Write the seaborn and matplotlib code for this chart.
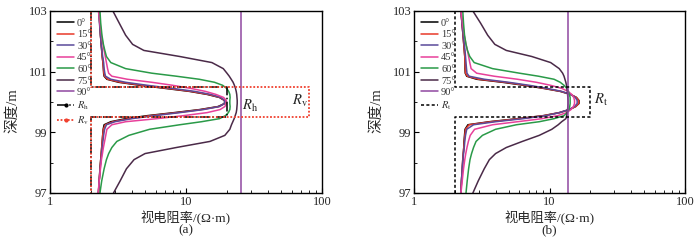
import matplotlib
matplotlib.use("Agg")
import matplotlib.pyplot as plt
from matplotlib.lines import Line2D
from matplotlib.ticker import FixedLocator, NullFormatter, FixedFormatter
import pandas as pd
import seaborn as sns

# depth grid shared by all curves (m)
depth = [103.0, 102.6, 102.2, 101.9, 101.7, 101.5, 101.3, 101.1, 100.95, 100.85,
         100.75, 100.65, 100.55, 100.45, 100.35, 100.25, 100.15, 100.05, 99.95, 99.85,
         99.75, 99.65, 99.55, 99.45, 99.35, 99.25, 99.1, 98.9, 98.7, 98.5,
         98.3, 98.1, 97.8, 97.4, 97.0]

angles = ["0°", "15°", "30°", "45°", "60°", "75°", "90°"]
colors = ["#000000", "#e8392a", "#5a4a9a", "#e8409a", "#2a9a48", "#4a2a48", "#9048a0"]

# (a) anisotropic bed: apparent resistivity per dip angle
a_0 = [2.29, 2.32, 2.35, 2.38, 2.40, 2.42, 2.45, 2.47, 2.48, 2.50,
       2.62, 3.2, 4.6, 7.0, 10.6, 14.3, 17.6, 19.2, 19.2, 17.2,
       12.6, 8.2, 5.2, 3.6, 2.8, 2.5, 2.46, 2.44, 2.42, 2.40,
       2.38, 2.36, 2.33, 2.30, 2.27]
a_15 = [2.29, 2.32, 2.35, 2.38, 2.40, 2.42, 2.45, 2.47, 2.49, 2.52,
        2.66, 3.3, 4.8, 7.3, 10.9, 14.6, 17.8, 19.3, 19.3, 17.5,
        13.0, 8.6, 5.5, 3.8, 2.9, 2.55, 2.47, 2.44, 2.42, 2.40,
        2.38, 2.36, 2.33, 2.30, 2.27]
a_30 = [2.28, 2.31, 2.35, 2.38, 2.41, 2.44, 2.48, 2.50, 2.53, 2.56,
        2.8, 3.6, 5.2, 7.9, 11.6, 15.2, 18.0, 19.3, 19.2, 17.6,
        13.4, 9.0, 5.9, 4.0, 3.0, 2.6, 2.52, 2.48, 2.45, 2.42,
        2.40, 2.37, 2.34, 2.30, 2.27]
a_45 = [2.27, 2.33, 2.39, 2.45, 2.50, 2.55, 2.60, 2.65, 2.70, 2.85,
        3.7, 5.6, 8.0, 10.8, 13.9, 16.6, 18.9, 19.8, 19.8, 19.3,
        17.8, 14.3, 9.6, 6.1, 3.6, 2.85, 2.62, 2.57, 2.52, 2.47,
        2.43, 2.39, 2.35, 2.30, 2.26]
a_60 = [2.33, 2.36, 2.41, 2.47, 2.53, 2.60, 2.80, 3.6, 5.6, 8.5,
        12.5, 16.2, 18.6, 19.9, 20.6, 21.0, 21.1, 21.0, 21.0, 21.1,
        21.0, 20.5, 19.5, 17.6, 13.0, 9.0, 5.4, 3.8, 3.1, 2.85,
        2.70, 2.60, 2.50, 2.40, 2.33]
a_75 = [2.9, 3.23, 3.6, 4.05, 4.9, 9.0, 15.5, 18.8, 20.0, 20.8,
        21.5, 22.2, 22.7, 23.1, 23.4, 23.6, 23.7, 23.8, 23.8, 23.7,
        23.6, 23.4, 23.0, 22.6, 22.1, 21.6, 21.0, 19.3, 15.0, 8.5,
        5.0, 4.15, 3.65, 3.28, 2.93]
a_90 = [25.3] * len(depth)

# (b) isotropic bed
b_0 = [2.22, 2.26, 2.30, 2.33, 2.35, 2.37, 2.38, 2.38, 2.39, 2.45,
       2.9, 4.5, 6.5, 9.0, 12.0, 14.3, 15.8, 16.5, 16.5, 15.6,
       14.0, 11.8, 9.0, 5.8, 3.6, 2.5, 2.38, 2.36, 2.34, 2.33,
       2.31, 2.29, 2.27, 2.24, 2.22]
b_15 = [2.22, 2.26, 2.30, 2.33, 2.35, 2.37, 2.38, 2.39, 2.40, 2.48,
        3.0, 4.7, 6.7, 9.2, 12.1, 14.3, 15.8, 16.4, 16.4, 15.6,
        14.0, 11.9, 9.1, 6.0, 3.7, 2.55, 2.40, 2.37, 2.35, 2.33,
        2.31, 2.29, 2.27, 2.24, 2.22]
b_30 = [2.22, 2.26, 2.31, 2.35, 2.38, 2.40, 2.42, 2.44, 2.46, 2.55,
        3.3, 5.0, 7.1, 9.6, 12.3, 14.3, 15.5, 16.0, 16.0, 15.3,
        13.9, 11.9, 9.4, 6.4, 4.0, 2.75, 2.45, 2.40, 2.37, 2.35,
        2.32, 2.30, 2.27, 2.24, 2.22]
b_45 = [2.22, 2.28, 2.35, 2.42, 2.48, 2.53, 2.58, 2.64, 2.90, 3.9,
        5.8, 8.0, 10.2, 12.3, 13.7, 14.6, 15.1, 15.3, 15.3, 15.0,
        14.4, 13.4, 11.5, 8.8, 5.8, 3.8, 2.8, 2.6, 2.52, 2.46,
        2.41, 2.37, 2.32, 2.27, 2.22]
b_60 = [2.29, 2.32, 2.36, 2.42, 2.48, 2.58, 2.78, 3.8, 6.0, 8.3,
        10.8, 12.0, 12.8, 13.4, 13.8, 14.0, 14.2, 14.2, 14.2, 14.1,
        13.9, 13.5, 12.8, 10.8, 8.4, 5.7, 4.0, 3.2, 2.87, 2.75,
        2.66, 2.59, 2.53, 2.47, 2.42]
b_75 = [2.72, 3.1, 3.5, 3.95, 4.8, 7.4, 10.2, 11.8, 12.5, 12.8,
        13.0, 13.2, 13.35, 13.45, 13.55, 13.6, 13.65, 13.7, 13.7, 13.65,
        13.6, 13.5, 13.4, 13.2, 12.3, 11.6, 10.4, 8.4, 6.3, 4.8,
        4.0, 3.6, 3.3, 2.98, 2.72]
b_90 = [13.6] * len(depth)

# true formation model
bed_top, bed_bot = 100.5, 99.5
r_shoulder = 2
rh_bed = 20
rv_bed = 80
rt_bed = 20
step_depth = [103, bed_top, bed_top, bed_bot, bed_bot, 97]


def step(r_bed):
    return [r_shoulder, r_shoulder, r_bed, r_bed, r_shoulder, r_shoulder]


sns.set_style("ticks")
plt.rcParams["font.family"] = ["Liberation Serif", "Noto Sans CJK SC"]
plt.rcParams["mathtext.fontset"] = "stix"
plt.rcParams["axes.unicode_minus"] = False

fig = plt.figure(figsize=(7, 2.41), dpi=100)
ax_a = fig.add_axes([50 / 700, 48 / 241, 272 / 700, 182 / 241])
ax_b = fig.add_axes([414 / 700, 48 / 241, 271 / 700, 182 / 241])

RED = "#f0402e"


def draw_curves(ax, curves):
    for lab, col, vals in zip(angles, colors, curves):
        df = pd.DataFrame({"res": vals, "depth": depth})
        sns.lineplot(data=df, x="res", y="depth", sort=False, estimator=None,
                     color=col, lw=1.1, ax=ax, label=lab, legend=False)


def style_axes(ax, tag):
    ax.set_xscale("log")
    ax.set_xlim(1, 100)
    ax.set_ylim(97, 103)
    ax.xaxis.set_major_locator(FixedLocator([1, 10, 100]))
    ax.xaxis.set_major_formatter(FixedFormatter(["1", "10", "100"]))
    ax.xaxis.set_minor_locator(FixedLocator([2, 3, 4, 5, 6, 7, 8, 9,
                                             20, 30, 40, 50, 60, 70, 80, 90]))
    ax.xaxis.set_minor_formatter(NullFormatter())
    ax.yaxis.set_major_locator(FixedLocator([97, 99, 101, 103]))
    ax.yaxis.set_minor_locator(FixedLocator([98, 100, 102]))
    ax.tick_params(which="both", direction="in", labelsize=9, pad=2, color="black")
    ax.tick_params(which="major", length=3.5, width=0.8)
    ax.tick_params(which="minor", length=2, width=0.6)
    for sp in ax.spines.values():
        sp.set_visible(True)
        sp.set_linewidth(1.0)
        sp.set_color("black")
    ax.set_xlabel("视电阻率/(Ω·m)", fontsize=9.5, labelpad=2.5)
    ax.set_ylabel("深度/m", fontsize=10.5)
    ax.yaxis.set_label_coords(-0.112, 0.45)
    ax.text(0.5, -0.205, tag, transform=ax.transAxes, ha="center", va="center",
            fontsize=9.5)


def add_legend(ax, handles, labels):
    ax.legend(handles, labels, loc="upper left", bbox_to_anchor=(0.0, 1.0),
              frameon=False, fontsize=7.5, handlelength=1.6, handletextpad=0.3,
              labelspacing=0.22, borderaxespad=0.5, borderpad=0.2,
              labelcolor="#333333")


# panel (a)
draw_curves(ax_a, [a_0, a_15, a_30, a_45, a_60, a_75, a_90])
sns.lineplot(x=step(rh_bed), y=step_depth, sort=False, estimator=None, color="black",
             lw=1.1, ls="-.", ax=ax_a, legend=False)
sns.lineplot(x=step(rv_bed), y=step_depth, sort=False, estimator=None, color=RED,
             lw=1.3, ls=(0, (1, 1)), ax=ax_a, legend=False)
ax_a.text(25.8, 99.87, r"$R_{\mathrm{h}}$", fontsize=10.5, va="center", ha="left")
ax_a.text(60, 100.02, r"$R_{\mathrm{v}}$", fontsize=10.5, va="center", ha="left")
style_axes(ax_a, "(a)")

handles_a = [Line2D([0], [0], color=c, lw=1.1) for c in colors]
handles_a.append(Line2D([0], [0], color="black", lw=1.1, ls="-.", marker="o", markersize=2))
handles_a.append(Line2D([0], [0], color=RED, lw=1.3, ls=(0, (1, 1)), marker="o", markersize=2))
add_legend(ax_a, handles_a, angles + [r"$R_{\mathrm{h}}$", r"$R_{\mathrm{v}}$"])

# panel (b)
draw_curves(ax_b, [b_0, b_15, b_30, b_45, b_60, b_75, b_90])
sns.lineplot(x=step(rt_bed), y=step_depth, sort=False, estimator=None, color="black",
             lw=1.1, ls=(0, (2, 1.5)), ax=ax_b, legend=False)
ax_b.text(21.3, 100.07, r"$R_{\mathrm{t}}$", fontsize=10.5, va="center", ha="left")
style_axes(ax_b, "(b)")

handles_b = [Line2D([0], [0], color=c, lw=1.1) for c in colors]
handles_b.append(Line2D([0], [0], color="black", lw=1.1, ls=(0, (2, 1.5))))
add_legend(ax_b, handles_b, angles + [r"$R_{\mathrm{t}}$"])

fig.savefig("out.png", dpi=100)
